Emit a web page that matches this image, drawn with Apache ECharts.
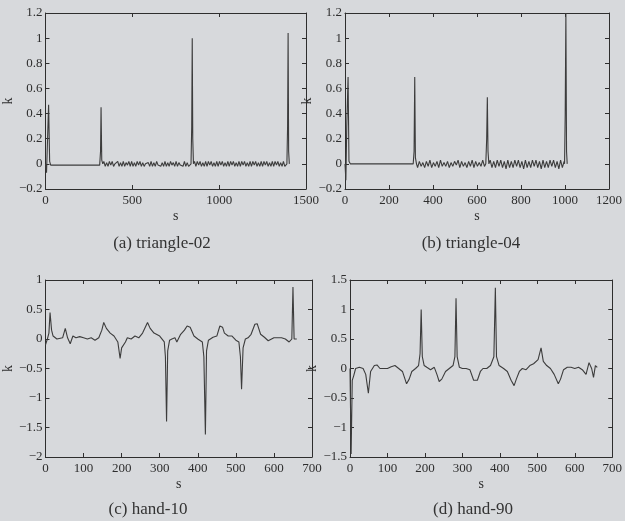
<!DOCTYPE html>
<html lang="en">
<head>
    <meta charset="UTF-8">
    <title>curvature plots</title>
    <script src="https://cdn.jsdelivr.net/npm/echarts@6/dist/echarts.min.js"></script>
    <style>
        body { margin: 0; background: #d7d9dc; }
        #main { width: 625px; height: 521px; }
    </style>
</head>
<body>
    <div id="main"></div>
</body>
<script type="text/javascript">
    // (a) triangle-02 : spikes + noisy stretches
    var triA_points = [[0, 0], [6, -0.07], [12, 0.2], [18, 0.47], [24, 0.02], [30, -0.01], [200, -0.01], [312, -0.01], [317, 0.1], [320, 0.45], [324, 0.03], [330, 0.0]];
    var triA_noise1_start = 336;
    var triA_noise1 = [0.02, -0.02, 0.01, -0.02, 0.02, -0.01, 0.02, -0.02, 0.0, -0.01, 0.02, -0.02, 0.01, -0.02, 0.02, -0.02,
        0.01, -0.01, 0.02, -0.02, 0.02, -0.02, 0.01, -0.02, 0.02, -0.01, 0.02, -0.02, 0.01, -0.02, 0.0, -0.01,
        0.01, -0.02, 0.02, -0.02, 0.01, -0.02, 0.02, -0.01, 0.0, -0.02, 0.01, -0.02, 0.02, -0.02, 0.01, -0.02,
        0.02, -0.01, 0.01, -0.02, 0.02, -0.02, 0.01, -0.01, 0.0, -0.02, 0.02, -0.02, 0.01, -0.02];
    var triA_mid = [[838, 0.0], [842, 0.3], [845, 1.0], [848, 0.2], [852, 0.0]];
    var triA_noise2_start = 858;
    var triA_noise2 = [0.02, -0.02, 0.02, -0.01, 0.02, -0.02, 0.01, -0.02, 0.02, -0.02, 0.02, -0.01, 0.02, -0.02, 0.01, -0.02,
        0.02, -0.02, 0.02, -0.01, 0.02, -0.02, 0.01, -0.02, 0.02, -0.02, 0.02, -0.01, 0.02, -0.02, 0.01, -0.02,
        0.02, -0.02, 0.02, -0.01, 0.02, -0.02, 0.01, -0.02, 0.02, -0.02, 0.02, -0.01, 0.02, -0.02, 0.01, -0.02,
        0.02, -0.02, 0.02, -0.01, 0.02, -0.02, 0.01, -0.02, 0.02, -0.02, 0.02, -0.01, 0.02, -0.02, 0.01, -0.02,
        0.02, -0.02];
    var triA_end = [[1390, 0.0], [1394, 0.3], [1397, 1.04], [1400, 0.1], [1404, 0.0]];

    // (b) triangle-04
    var triB_points = [[0, 0.0], [4, -0.13], [8, 0.3], [14, 0.69], [18, 0.02], [24, 0.0], [200, 0.0], [310, 0.0], [314, 0.1], [317, 0.69], [320, 0.05], [325, 0.0]];
    var triB_noise1_start = 330;
    var triB_noise1 = [-0.03, 0.02, -0.02, 0.01, -0.03, 0.02, -0.02, 0.03, -0.03, 0.01, -0.02, 0.02, -0.03, 0.03, -0.02, 0.01,
        -0.02, 0.02, -0.03, 0.01, -0.02, 0.02, -0.01, 0.03, -0.03, 0.02, -0.02, 0.01, -0.03, 0.02, -0.02, 0.03,
        -0.03, 0.02, -0.02, 0.01, -0.02, 0.03, -0.02];
    var triB_mid = [[640, 0.0], [644, 0.2], [647, 0.53], [650, 0.1], [654, 0.0]];
    var triB_noise2_start = 660;
    var triB_noise2 = [0.03, -0.03, 0.02, -0.03, 0.03, -0.02, 0.03, -0.03, 0.02, -0.04, 0.03, -0.03, 0.02, -0.03, 0.03, -0.02,
        0.03, -0.03, 0.02, -0.04, 0.03, -0.03, 0.02, -0.03, 0.03, -0.02, 0.03, -0.03, 0.02, -0.04, 0.03, -0.03,
        0.02, -0.03, 0.03, -0.02, 0.03, -0.03, 0.02, -0.04, 0.03, -0.03, 0.02];
    var triB_end = [[998, 0.0], [1001, 0.4], [1004, 1.2], [1007, 0.1], [1010, 0.0]];

    // (c) hand-10
    var handTen = [[0, -0.1], [5, 0.0], [9, 0.1], [12, 0.45], [16, 0.15], [20, 0.05], [30, 0.0], [45, 0.02], [52, 0.18], [58, 0.02],
        [65, -0.08], [72, 0.05], [80, 0.02], [90, 0.04], [100, 0.02], [110, 0.0], [120, 0.02], [130, -0.02], [140, 0.02],
        [148, 0.15], [153, 0.28], [160, 0.18], [170, 0.1], [180, 0.05], [190, -0.05], [196, -0.33], [200, -0.15], [210, -0.05],
        [215, 0.02], [225, 0.0], [235, 0.05], [245, 0.02], [255, 0.1], [268, 0.28], [275, 0.18], [285, 0.1], [300, 0.05],
        [312, -0.05], [315, -0.3], [318, -1.4], [321, -0.2], [326, -0.02], [332, 0.0], [340, 0.02], [345, -0.05], [355, 0.08],
        [365, 0.15], [372, 0.22], [380, 0.2], [390, 0.05], [400, 0.0], [412, -0.05], [416, -0.3], [420, -1.62], [423, -0.2],
        [428, -0.02], [440, 0.03], [450, 0.05], [458, 0.22], [465, 0.2], [470, 0.1], [480, 0.05], [490, 0.05], [500, -0.02],
        [508, -0.05], [512, -0.3], [515, -0.85], [519, -0.15], [525, 0.0], [532, 0.02], [540, 0.08], [550, 0.25], [556, 0.26],
        [565, 0.08], [575, 0.03], [585, -0.03], [600, 0.02], [620, 0.02], [630, 0.0], [640, -0.05], [647, 0.0], [650, 0.88],
        [653, 0.0], [660, 0.0]];

    // (d) hand-90
    var handNinety = [[0, 0.0], [3, -1.45], [6, -0.2], [10, -0.12], [15, 0.0], [25, 0.02], [35, 0.0], [42, -0.1], [49, -0.42],
        [55, -0.05], [65, 0.05], [72, 0.06], [80, 0.0], [90, 0.0], [100, 0.0], [110, 0.03], [120, 0.05], [130, 0.0], [140, -0.05],
        [151, -0.26], [158, -0.18], [165, -0.05], [175, 0.0], [183, 0.05], [187, 0.25], [190, 1.0], [193, 0.2], [198, 0.05],
        [205, 0.02], [215, -0.02], [225, 0.02], [232, -0.1], [238, -0.22], [245, -0.18], [255, -0.05], [265, 0.0], [275, 0.05],
        [280, 0.2], [283, 1.19], [286, 0.2], [292, 0.02], [300, 0.0], [310, 0.0], [320, -0.02], [330, -0.2], [340, -0.2],
        [348, -0.05], [355, 0.0], [365, 0.0], [375, 0.05], [384, 0.2], [388, 1.37], [391, 0.2], [398, 0.05], [410, 0.0],
        [420, -0.05], [430, -0.2], [438, -0.29], [444, -0.18], [452, -0.05], [460, 0.0], [470, -0.02], [480, 0.05], [490, 0.08],
        [502, 0.15], [510, 0.35], [516, 0.12], [525, 0.05], [535, 0.0], [545, -0.1], [556, -0.26], [562, -0.18], [570, -0.02],
        [580, 0.02], [590, 0.02], [600, 0.0], [610, 0.02], [620, -0.02], [625, 0.0], [630, -0.1], [638, 0.1], [645, 0.0],
        [650, -0.15], [655, 0.05], [660, 0.02]];

    var captions = ['(a) triangle-02', '(b) triangle-04', '(c) hand-10', '(d) hand-90'];

    function withNoise(start, step, values) {
        var out = [];
        for (var i = 0; i < values.length; i++) out.push([start + i * step, values[i]]);
        return out;
    }

    var triA = triA_points.concat(withNoise(triA_noise1_start, 8, triA_noise1), triA_mid,
        withNoise(triA_noise2_start, 8, triA_noise2), triA_end);
    var triB = triB_points.concat(withNoise(triB_noise1_start, 8, triB_noise1), triB_mid,
        withNoise(triB_noise2_start, 8, triB_noise2), triB_end);

    var font = 'Liberation Serif';
    var ink = '#2e2e2e';

    var panels = [
        { grid: { left: 44, top: 13, width: 262, height: 176 }, x: [0, 1500, 500], y: [-0.2, 1.2, 0.2], data: triA, cap: [162, 244] },
        { grid: { left: 345, top: 13, width: 269, height: 176 }, x: [0, 1200, 200], y: [-0.2, 1.2, 0.2], data: triB, cap: [471, 244] },
        { grid: { left: 44, top: 280, width: 268, height: 177 }, x: [0, 700, 100], y: [-2, 1, 0.5], data: handTen, cap: [148, 510] },
        { grid: { left: 350, top: 280, width: 266, height: 177 }, x: [0, 700, 100], y: [-1.5, 1.5, 0.5], data: handNinety, cap: [473, 510] }
    ];

    function fmt(v) {
        return String(parseFloat(v.toFixed(2))).replace('-', '\u2212');
    }

    var grids = [], xAxes = [], yAxes = [], series = [], graphics = [];
    panels.forEach(function (p, g) {
        grids.push(p.grid);
        [true, false].forEach(function (main) {
            xAxes.push({
                type: 'value', gridIndex: g, min: p.x[0], max: p.x[1], interval: p.x[2],
                position: main ? 'bottom' : 'top',
                name: main ? 's' : '', nameLocation: 'middle', nameGap: 20,
                nameTextStyle: { fontFamily: font, fontSize: 14, color: ink },
                axisLine: { show: true, onZero: false, lineStyle: { color: ink, width: 1 } },
                axisTick: { show: true, inside: true, length: 4, lineStyle: { color: ink } },
                axisLabel: { show: main, fontFamily: font, fontSize: 13, color: ink, margin: 5, formatter: fmt, showMinLabel: true, showMaxLabel: true },
                splitLine: { show: false }
            });
            yAxes.push({
                type: 'value', gridIndex: g, min: p.y[0], max: p.y[1], interval: p.y[2],
                position: main ? 'left' : 'right',
                name: main ? 'k' : '', nameLocation: 'middle', nameGap: 27, nameRotate: 90,
                nameTextStyle: { fontFamily: font, fontSize: 14, color: ink },
                axisLine: { show: true, onZero: false, lineStyle: { color: ink, width: 1 } },
                axisTick: { show: true, inside: true, length: 4, lineStyle: { color: ink } },
                axisLabel: { show: main, fontFamily: font, fontSize: 13, color: ink, margin: 3, formatter: fmt, showMinLabel: true, showMaxLabel: true },
                splitLine: { show: false }
            });
        });
        series.push({
            type: 'line', xAxisIndex: 2 * g, yAxisIndex: 2 * g, data: p.data,
            showSymbol: false, silent: true, animation: false,
            lineStyle: { color: '#3c3c3c', width: 1.1 }
        });
        graphics.push({
            type: 'text', x: p.cap[0], y: p.cap[1],
            style: { text: captions[g], fontFamily: font, fontSize: 17, fill: '#333', textAlign: 'center', textVerticalAlign: 'middle' }
        });
    });

    var chart = echarts.init(document.getElementById('main'));
    chart.setOption({
        backgroundColor: '#d7d9dc',
        animation: false,
        grid: grids,
        xAxis: xAxes,
        yAxis: yAxes,
        series: series,
        graphic: graphics
    });
</script>
</html>
